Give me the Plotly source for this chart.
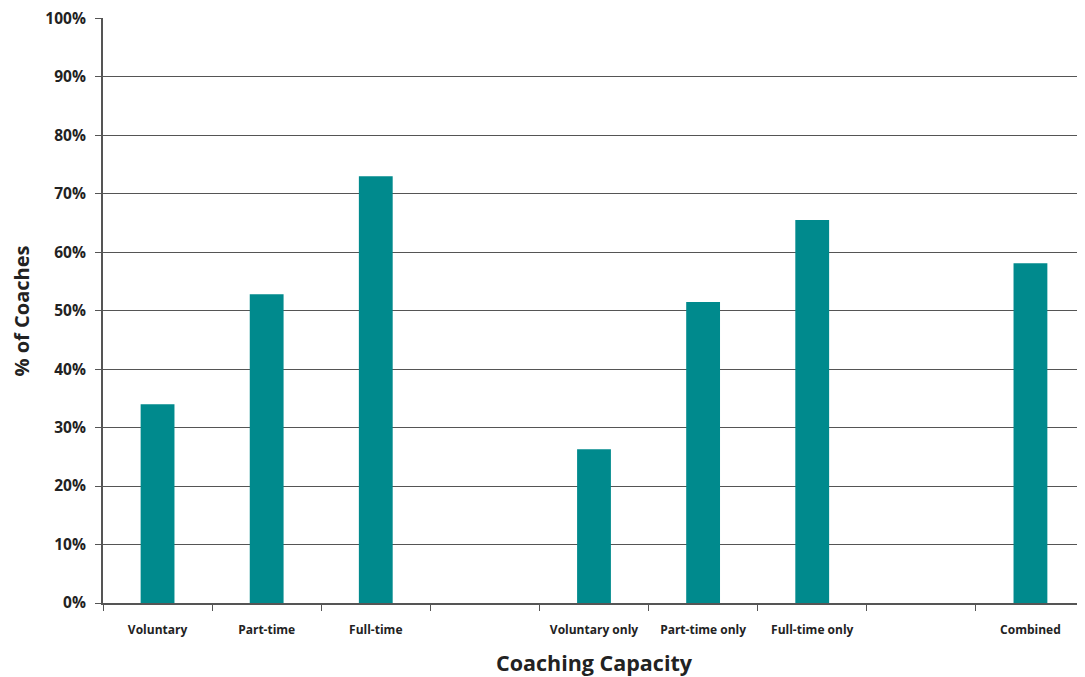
import plotly.graph_objects as go

categories = ["Voluntary", "Part-time", "Full-time", " ", "Voluntary only",
              "Part-time only", "Full-time only", "  ", "Combined"]
values = [0.340, 0.528, 0.730, None, 0.263, 0.515, 0.655, None, 0.581]
y_ticks = [i / 10 for i in range(11)]

fig = go.Figure(go.Bar(x=categories, y=values, marker_color="#008a8d",
                       marker_line_width=0, width=0.31))

font_family = "Open Sans, Noto Sans, sans-serif"
# page body adds an 8px margin, so the figure is sized to end at the window edge
fig.update_layout(
    width=1077, height=669,
    margin=dict(l=95, r=0, t=10, b=74, autoexpand=False),
    paper_bgcolor="white", plot_bgcolor="white",
    showlegend=False,
    font=dict(family=font_family, color="#222222"),
)
fig.update_xaxes(
    type="category", categoryorder="array", categoryarray=categories,
    tickson="boundaries", ticks="outside", ticklen=6, tickcolor="#555555",
    showline=True, linecolor="#555555", linewidth=2,
    automargin=False, ticklabelstandoff=15,
    tickfont=dict(size=12, family=font_family, weight="bold", color="#222222"),
    title=dict(text="Coaching Capacity", standoff=22,
               font=dict(size=21.5, family=font_family, weight="bold", color="#222222")),
    showgrid=False,
)
fig.update_yaxes(
    range=[0, 1.0005], tickvals=y_ticks, tickformat=".0%",
    ticks="outside", ticklen=6, tickcolor="#555555",
    showline=True, linecolor="#555555", linewidth=2,
    automargin=False, ticklabelstandoff=6, ticklabeloverflow="allow",
    showgrid=True, gridcolor="#555555", gridwidth=1,
    tickfont=dict(size=15.5, family=font_family, weight="bold", color="#222222"),
    zeroline=False,
)
fig.add_annotation(
    text="% of Coaches", xref="paper", yref="paper", x=-0.0825, y=0.5,
    xanchor="center", yanchor="middle", textangle=-90, showarrow=False,
    font=dict(size=20, family=font_family, weight="bold", color="#222222"),
)

fig.write_html("out.html")
